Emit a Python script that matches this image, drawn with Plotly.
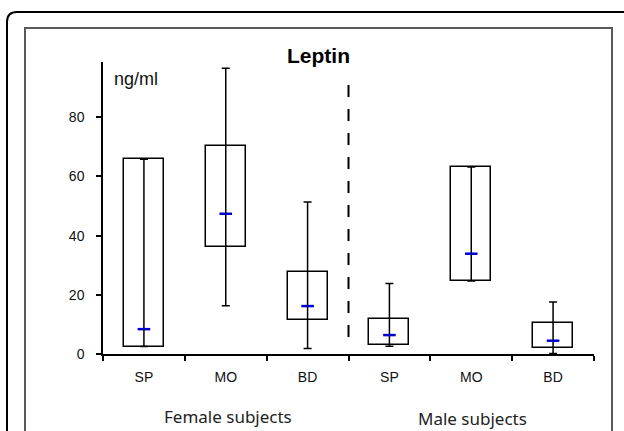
import plotly.graph_objects as go

# ---- data ----
categories = ["SP", "MO", "BD", "SP", "MO", "BD"]
groups = ["Female subjects", "Male subjects"]
box_low = [2.5, 36.3, 11.5, 2.9, 24.7, 2.0]      # box bottom
box_high = [65.8, 70.3, 27.8, 12.0, 63.2, 10.6]  # box top
medians = [8.4, 47.4, 16.2, 6.4, 33.9, 4.5]
whisker_low = [2.5, 16.3, 1.9, 2.6, 24.7, 0.2]
whisker_high = [65.8, 96.6, 51.4, 23.8, 63.2, 17.6]
y_ticks = [0, 20, 40, 60, 80]

# ---- pixel helpers for layout geometry ----
W, H = 624, 431
L, R, T, B = 103, 30, 62, 77
PW, PH = W - L - R, H - T - B


def px(xp):
    return (xp - L) / PW


def py(yp):
    return (H - B - yp) / PH


xs = list(range(len(categories)))
YMAX = 98.7

fig = go.Figure()

fig.add_trace(go.Bar(
    x=xs,
    y=[h - l for h, l in zip(box_high, box_low)],
    base=box_low,
    width=0.49,
    marker=dict(color="white", line=dict(color="black", width=1.5)),
    showlegend=False,
    hoverinfo="skip",
))

fig.add_trace(go.Scatter(
    x=xs,
    y=medians,
    mode="markers",
    marker=dict(symbol="line-ew", size=9, color="#0000cc",
                line=dict(color="#0000cc", width=2.5)),
    error_y=dict(type="data", symmetric=False,
                 array=[h - m for h, m in zip(whisker_high, medians)],
                 arrayminus=[m - l for m, l in zip(medians, whisker_low)],
                 width=4, thickness=1.5, color="black"),
    showlegend=False,
))

sep = len(categories) / 2 - 0.5
shapes = [
    dict(type="line", xref="x", yref="y", x0=sep, x1=sep, y0=90.9, y1=5.7,
         line=dict(color="black", width=2, dash="12px,12px")),
    # outer rounded frame
    dict(type="path", xref="paper", yref="paper",
         path=(f"M {px(7)},{py(445)} L {px(7)},{py(22)} "
               f"Q {px(7)},{py(12)} {px(17)},{py(12)} L {px(640)},{py(12)}"),
         line=dict(color="black", width=2)),
    # inner frame
    dict(type="path", xref="paper", yref="paper",
         path=(f"M {px(25)},{py(445)} L {px(25)},{py(28)} "
               f"L {px(612)},{py(28)} L {px(612)},{py(445)}"),
         line=dict(color="#5a5a5a", width=2)),
]

annotations = [
    dict(text="<b>Leptin</b>", xref="paper", yref="paper", x=px(318), y=py(56),
         xanchor="center", yanchor="middle", showarrow=False,
         font=dict(family="Liberation Sans", size=21, color="black")),
    dict(text="ng/ml", xref="paper", yref="paper", x=px(112), y=py(79),
         xanchor="left", yanchor="middle", showarrow=False,
         font=dict(family="Liberation Sans", size=18, color="#111")),
    dict(text=groups[0], xref="paper", yref="paper", x=px(228), y=py(416),
         xanchor="center", yanchor="middle", showarrow=False,
         font=dict(family="Noto Sans", size=17, color="#222")),
    dict(text=groups[1], xref="paper", yref="paper", x=px(472), y=py(419),
         xanchor="center", yanchor="middle", showarrow=False,
         font=dict(family="Noto Sans", size=17, color="#222")),
]

fig.update_layout(
    width=W, height=H,
    margin=dict(l=L, r=R, t=T, b=B),
    paper_bgcolor="white", plot_bgcolor="white",
    shapes=shapes, annotations=annotations,
    bargap=0,
    xaxis=dict(range=[-0.5, len(categories) - 0.5], tickmode="array",
               tickvals=xs, ticktext=categories, ticks="",
               showline=True, linecolor="black", linewidth=1.5,
               showgrid=False, zeroline=False, ticklabelstandoff=9,
               tickfont=dict(family="Liberation Sans", size=14, color="#111"),
               minor=dict(tickmode="array",
                          tickvals=[x - 0.5 for x in xs] + [len(xs) - 0.5],
                          ticks="outside", ticklen=5, tickwidth=1.5,
                          tickcolor="black", showgrid=False),
               fixedrange=True),
    yaxis=dict(range=[0, YMAX], tickmode="array", tickvals=y_ticks,
               ticks="outside", ticklen=5, tickwidth=1.5, tickcolor="black",
               showline=True, linecolor="black", linewidth=1.5,
               showgrid=False, zeroline=False, ticklabelstandoff=9,
               tickfont=dict(family="Liberation Sans", size=14, color="#111"),
               fixedrange=True),
)

fig.write_html("out.html", config={"displayModeBar": False},
               post_script="document.body.style.margin='0';")
